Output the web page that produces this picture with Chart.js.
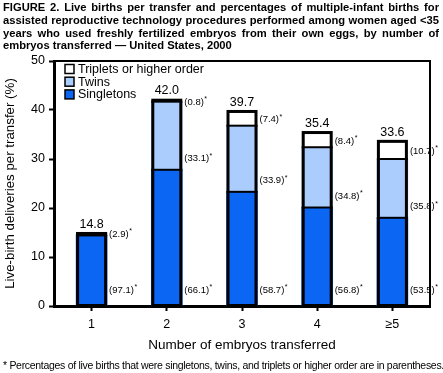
<!DOCTYPE html>
<html>
<head>
<meta charset="utf-8">
<script src="https://cdn.jsdelivr.net/npm/chart.js@4.4.0/dist/chart.umd.min.js"></script>
<style>
  body { margin: 0; background: #fff; }
  #wrap { position: relative; width: 443px; height: 373px; overflow: hidden; }
  #title {
    position: absolute; left: 3px; top: 1px; width: 436px;
    font: bold 11.2px "Liberation Sans", Arial, sans-serif;
    line-height: 12.8px; text-align: justify; color: #000;
  }
  #note {
    position: absolute; left: 3px; top: 359px;
    font: 10.5px "Liberation Sans", Arial, sans-serif;
    letter-spacing: -0.3px; white-space: nowrap; color: #000;
  }
  canvas { position: absolute; left: 0; top: 0; }
</style>
</head>
<body>
<div id="wrap">
  <canvas id="chart" width="443" height="373"></canvas>
  <div id="title">FIGURE 2. Live births per transfer and percentages of multiple-infant births for assisted reproductive technology procedures performed among women aged &lt;35 years who used freshly fertilized embryos from their own eggs, by number of embryos transferred — United States, 2000</div>
  <div id="note">* Percentages of live births that were singletons, twins, and triplets or higher order are in parentheses.</div>
</div>
<script>
const categories = ['1', '2', '3', '4', '≥5'];

// live-birth deliveries per transfer (%), split by plurality
const singletons = [14.4, 27.8, 23.3, 20.1, 18.0];
const twins = [0.4, 13.9, 13.5, 12.3, 12.0];
const triplets = [0, 0.3, 2.9, 3.0, 3.6];
const totals = [14.8, 42.0, 39.7, 35.4, 33.6];

// percentages shown in parentheses
const pctSingletons = ['97.1', '66.1', '58.7', '56.8', '53.5'];
const pctTwins = ['2.9', '33.1', '33.9', '34.8', '35.8'];
const pctTriplets = [null, '0.8', '7.4', '8.4', '10.7'];

const yTicks = [0, 10, 20, 30, 40, 50];

const FONT = '"Liberation Sans", Arial, sans-serif';
Chart.defaults.font.family = FONT;
Chart.defaults.color = '#000';

const BLUE = '#0b66f4';
const LIGHT = '#abcdfd';

function drawPct(c, text, x, y) {
  c.font = '9.5px ' + FONT;
  c.textAlign = 'left';
  c.textBaseline = 'middle';
  const t = '(' + text + ')';
  c.fillText(t, x, y);
  const w = c.measureText(t).width;
  c.font = '7px ' + FONT;
  c.fillText('*', x + w + 0.5, y - 3);
}

const labelPlugin = {
  id: 'labels',
  afterDatasetsDraw(chart) {
    const c = chart.ctx;
    const area = chart.chartArea;
    const y = chart.scales.y;
    c.save();

    // plot frame (top and right)
    c.strokeStyle = '#000';
    c.lineWidth = 2;
    c.beginPath();
    c.moveTo(area.left, area.top);
    c.lineTo(area.right, area.top);
    c.lineTo(area.right, area.bottom);
    c.stroke();

    const pcts = [pctSingletons, pctTwins, pctTriplets];
    for (let i = 0; i < categories.length; i++) {
      const first = chart.getDatasetMeta(0).data[i];
      const half = first.width / 2;
      const topY = y.getPixelForValue(totals[i]);

      // dividers between segments, then the bar outline
      c.strokeStyle = '#000';
      c.lineWidth = 2;
      for (let d = 0; d < 2; d++) {
        const el = chart.getDatasetMeta(d).data[i];
        if (chart.data.datasets[d].data[i] <= 0) continue;
        c.beginPath();
        c.moveTo(el.x - half, el.y);
        c.lineTo(el.x + half, el.y);
        c.stroke();
      }
      c.lineWidth = 3;
      c.strokeRect(first.x - half + 1.5, topY, first.width - 3, first.base - topY);

      // total above the bar
      c.fillStyle = '#000';
      c.font = '12.5px ' + FONT;
      c.textAlign = 'center';
      c.textBaseline = 'bottom';
      c.fillText(totals[i].toFixed(1), first.x, topY - 3);

      for (let d = 0; d < 3; d++) {
        const txt = pcts[d][i];
        if (!txt) continue;
        const el = chart.getDatasetMeta(d).data[i];
        const t = el.y, b = el.base, h = b - t;
        const x = el.x + half + 2;
        let ly;
        if (d === 0) ly = b - 15;
        else if (d === 1) ly = h < 20 ? (t + b) / 2 : b - 11;
        else ly = (t + b) / 2 + 1;
        drawPct(c, txt, x, ly);
      }
    }

    // legend, top-left inside the plot
    const order = [2, 1, 0];
    order.forEach((d, k) => {
      const ds = chart.data.datasets[d];
      const bx = area.left + 11;
      const cy = area.top + 8 + k * 12.7;
      c.fillStyle = ds.backgroundColor;
      c.fillRect(bx, cy - 4.5, 9, 9);
      c.strokeStyle = '#000';
      c.lineWidth = 1.5;
      c.strokeRect(bx, cy - 4.5, 9, 9);
      c.fillStyle = '#000';
      c.font = '12.5px ' + FONT;
      c.textAlign = 'left';
      c.textBaseline = 'middle';
      c.fillText(ds.label, bx + 13, cy + 0.5);
    });
    c.restore();
  }
};

const ctx = document.getElementById('chart').getContext('2d');
new Chart(ctx, {
  type: 'bar',
  data: {
    labels: categories,
    datasets: [
      { label: 'Singletons', data: singletons, backgroundColor: BLUE },
      { label: 'Twins', data: twins, backgroundColor: LIGHT },
      { label: 'Triplets or higher order', data: triplets, backgroundColor: '#ffffff' }
    ].map(ds => Object.assign(ds, { borderWidth: 0, barThickness: 31 }))
  },
  options: {
    responsive: false,
    animation: false,
    layout: { padding: { top: 61, right: 13, bottom: 17, left: 0 } },
    plugins: { legend: { display: false }, tooltip: { enabled: false } },
    scales: {
      x: {
        stacked: true,
        offset: true,
        afterFit: s => { s.height = 50; },
        grid: { drawOnChartArea: false, offset: false, tickLength: 5, tickWidth: 2, tickColor: '#000' },
        border: { color: '#000', width: 3 },
        ticks: { color: '#000', font: { size: 12.5 }, padding: 6 },
        title: {
          display: true, text: 'Number of embryos transferred', color: '#000',
          font: { size: 13.5 }, padding: { top: 0, bottom: 3 }
        }
      },
      y: {
        stacked: true,
        min: 0,
        max: 50,
        afterFit: s => { s.width = 54; },
        afterBuildTicks: s => { s.ticks = yTicks.map(v => ({ value: v })); },
        grid: { drawOnChartArea: false, tickLength: 5, tickWidth: 2, tickColor: '#000' },
        border: { color: '#000', width: 3 },
        ticks: { color: '#000', font: { size: 12.5 }, padding: 4 },
        title: {
          display: true, text: 'Live-birth deliveries per transfer (%)', color: '#000',
          font: { size: 13.3 }, padding: { top: 2, bottom: 0 }
        }
      }
    }
  },
  plugins: [labelPlugin]
});
</script>
</body>
</html>
